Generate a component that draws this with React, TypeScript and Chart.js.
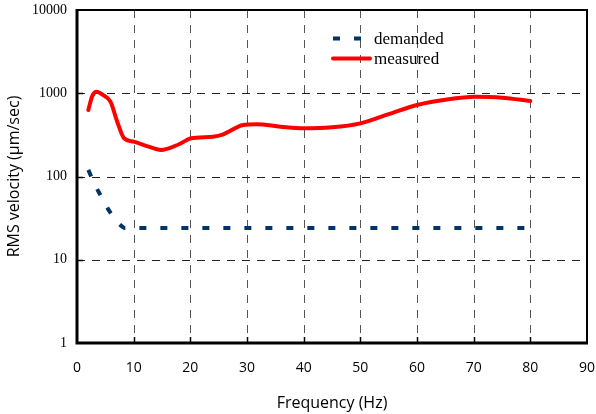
import React, { useEffect, useRef } from "react";
import { Chart, registerables } from "chart.js";

Chart.register(...registerables);

const measuredFreq = [2, 2.7, 3.5, 4.5, 5.9, 7.1, 8.3, 10, 12.5, 14.8, 18, 20.1, 24, 25.8, 29.3, 31.7, 35.9, 40, 45, 50, 55, 60, 65, 70.3, 75, 80];
const measuredRms = [630, 930, 1045, 960, 792, 455, 288, 262, 230, 208, 244, 288, 301, 321, 415, 424, 397, 379, 390, 435, 560, 722, 835, 905, 885, 807];

const demandedFreq = [2, 3, 4, 5, 6, 7, 8, 8.5, 10, 20, 30, 40, 50, 60, 70, 80];
const demandedRms = [120, 84, 62, 46, 36, 29, 25, 24, 24, 24, 24, 24, 24, 24, 24, 24];

const xTicks = [0, 10, 20, 30, 40, 50, 60, 70, 80, 90];
const yTicks = [1, 10, 100, 1000, 10000];

const seriesNames = ["demanded", "measured"];
const NAVY = "#003366";
const RED = "#ff0000";

const framePlugin = {
  id: "framePlugin",
  beforeDatasetsDraw(chart: any) {
    const { ctx, chartArea: a, scales } = chart;
    const xs = scales.x;
    const ys = scales.y;
    ctx.save();
    ctx.lineWidth = 1;
    ctx.setLineDash([8, 7]);
    ctx.strokeStyle = "#555";
    xTicks.slice(1, -1).forEach((v) => {
      const px = Math.round(xs.getPixelForValue(v)) + 0.5;
      ctx.beginPath();
      ctx.moveTo(px, a.top);
      ctx.lineTo(px, a.bottom);
      ctx.stroke();
    });
    ctx.strokeStyle = "#222";
    yTicks.slice(1, -1).forEach((v) => {
      const py = Math.round(ys.getPixelForValue(v)) + 0.5;
      ctx.beginPath();
      ctx.moveTo(a.left, py);
      ctx.lineTo(a.right, py);
      ctx.stroke();
    });
    ctx.restore();
  },
  afterDatasetsDraw(chart: any) {
    const { ctx, chartArea: a, scales } = chart;
    const xs = scales.x;
    const ys = scales.y;
    ctx.save();
    ctx.setLineDash([]);
    ctx.strokeStyle = "#000";
    ctx.lineWidth = 1.5;
    xTicks.slice(1, -1).forEach((v) => {
      const px = Math.round(xs.getPixelForValue(v)) + 0.5;
      ctx.beginPath();
      ctx.moveTo(px, a.bottom);
      ctx.lineTo(px, a.bottom - 6);
      ctx.stroke();
    });
    yTicks.slice(1, -1).forEach((v) => {
      const py = Math.round(ys.getPixelForValue(v)) + 0.5;
      ctx.beginPath();
      ctx.moveTo(a.left, py);
      ctx.lineTo(a.left + 6, py);
      ctx.stroke();
    });
    ctx.lineWidth = 2;
    ctx.beginPath();
    ctx.moveTo(a.left, a.top);
    ctx.lineTo(a.right, a.top);
    ctx.lineTo(a.right, a.bottom);
    ctx.stroke();
    ctx.lineWidth = 3;
    ctx.beginPath();
    ctx.moveTo(a.left, a.top - 1);
    ctx.lineTo(a.left, a.bottom);
    ctx.lineTo(a.right + 1, a.bottom);
    ctx.stroke();

    const ds = chart.data.datasets;
    const lx = a.left + (a.right - a.left) * 0.5;
    const rows = [a.top + 28.5, a.top + 48.5];
    ctx.font = "17px 'Liberation Serif', 'Times New Roman', serif";
    ctx.textBaseline = "middle";
    ctx.fillStyle = "#000";
    ds.forEach((d: any, i: number) => {
      const y = rows[i];
      ctx.save();
      ctx.strokeStyle = d.borderColor;
      ctx.lineWidth = d.borderWidth;
      ctx.setLineDash(d.borderDash || []);
      ctx.lineCap = "butt";
      ctx.beginPath();
      if (i === 0) {
        ctx.moveTo(lx + 1, y);
        ctx.lineTo(lx + 29, y);
      } else {
        ctx.lineCap = "round";
        ctx.moveTo(lx + 1, y);
        ctx.lineTo(lx + 38, y);
      }
      ctx.stroke();
      ctx.restore();
      ctx.fillText(d.label, lx + 42, y + 1.5);
    });
    ctx.restore();
  },
};

export default function App() {
  const ref = useRef<HTMLCanvasElement | null>(null);
  useEffect(() => {
    document.body.style.margin = "0";
    const canvas = ref.current;
    if (!canvas) return;
    const chart = new Chart(canvas, {
      type: "line",
      data: {
        datasets: [
          {
            label: seriesNames[0],
            data: demandedFreq.map((f, i) => ({ x: f, y: demandedRms[i] })),
            borderColor: NAVY,
            borderWidth: 4,
            borderDash: [7, 14],
            borderCapStyle: "butt",
            pointRadius: 0,
            fill: false,
            cubicInterpolationMode: "monotone",
          },
          {
            label: seriesNames[1],
            data: measuredFreq.map((f, i) => ({ x: f, y: measuredRms[i] })),
            borderColor: RED,
            borderWidth: 4,
            borderCapStyle: "round",
            pointRadius: 0,
            fill: false,
            cubicInterpolationMode: "monotone",
          },
        ],
      },
      options: {
        responsive: false,
        animation: false,
        layout: { padding: { top: 10, right: 9, left: 0, bottom: 0 } },
        plugins: { legend: { display: false }, tooltip: { enabled: false } },
        scales: {
          x: {
            type: "linear",
            min: 0,
            max: 90,
            afterBuildTicks: (s: any) => {
              s.ticks = xTicks.map((v) => ({ value: v }));
            },
            ticks: {
              autoSkip: false,
              maxRotation: 0,
              color: "#000",
              padding: 17,
              font: { family: "'Open Sans', sans-serif", size: 14 },
            },
            grid: { display: false, drawTicks: false },
            border: { display: false },
            title: {
              display: true,
              text: "Frequency (Hz)",
              color: "#000",
              font: { family: "'Open Sans', sans-serif", size: 16 },
              padding: { top: 0, bottom: 1 },
            },
            afterFit: (s: any) => {
              s.height = 71;
              s.paddingLeft = 0;
              s.paddingRight = 0;
            },
          },
          y: {
            type: "logarithmic",
            min: 1,
            max: 10000,
            afterBuildTicks: (s: any) => {
              s.ticks = yTicks.map((v) => ({ value: v }));
            },
            ticks: {
              autoSkip: false,
              color: "#000",
              padding: 10,
              callback: (v: any) => String(v),
              font: { family: "'Liberation Serif', serif", size: 14 },
            },
            grid: { display: false, drawTicks: false },
            border: { display: false },
            title: {
              display: true,
              text: "RMS velocity (μm/sec)",
              color: "#000",
              font: { family: "'Open Sans', sans-serif", size: 16 },
              padding: { top: 5, bottom: 0 },
            },
            afterFit: (s: any) => {
              s.width = 77;
              s.paddingTop = 0;
              s.paddingBottom = 0;
            },
          },
        },
      },
      plugins: [framePlugin],
    } as any);
    return () => chart.destroy();
  }, []);
  return (
    <div style={{ width: 596, height: 414 }}>
      <canvas ref={ref} width={596} height={414} />
    </div>
  );
}
